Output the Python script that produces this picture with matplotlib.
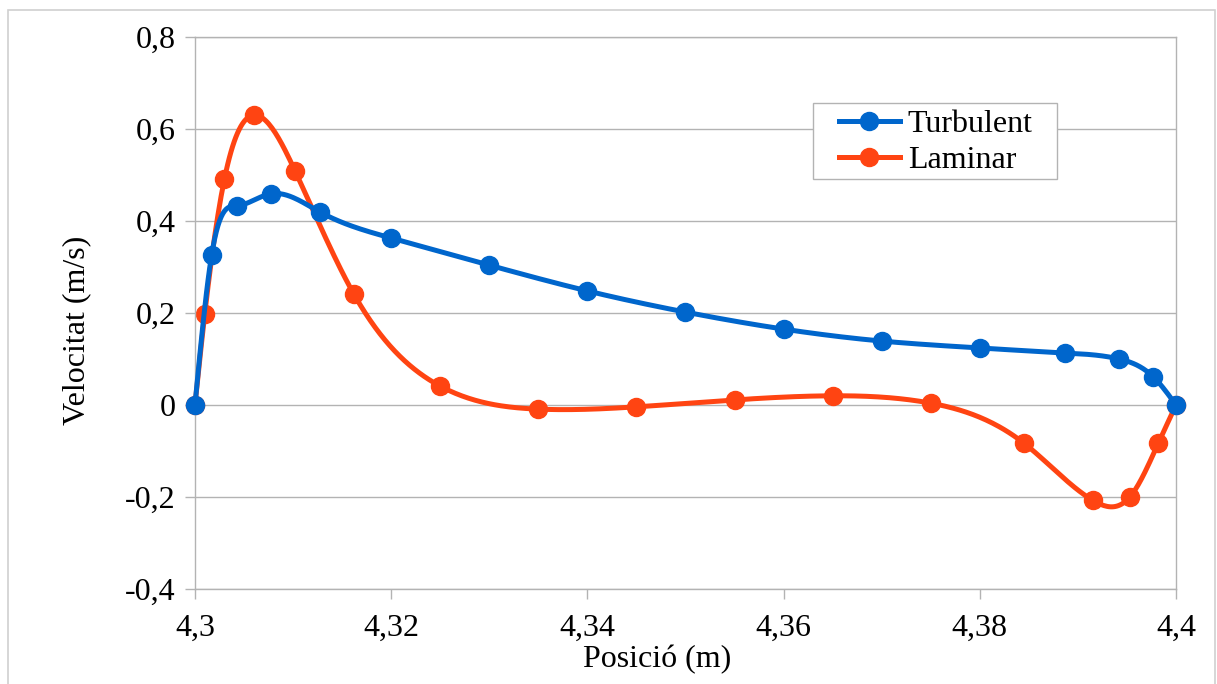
import numpy as np
import matplotlib
matplotlib.use("Agg")
import matplotlib.pyplot as plt
from matplotlib.patches import Rectangle

# data
turb_x = [4.3, 4.3017, 4.3043, 4.3077, 4.3127, 4.32, 4.33, 4.34, 4.35, 4.36,
          4.37, 4.38, 4.3887, 4.3942, 4.3977, 4.4]
turb_y = [0.0, 0.326, 0.433, 0.459, 0.420, 0.363, 0.304, 0.248, 0.202, 0.165,
          0.139, 0.124, 0.113, 0.100, 0.061, 0.0]

lam_x = [4.3, 4.301, 4.303, 4.306, 4.3102, 4.3162, 4.325, 4.335, 4.345, 4.355,
         4.365, 4.375, 4.3845, 4.3915, 4.3953, 4.3982, 4.4]
lam_y = [0.0, 0.198, 0.491, 0.630, 0.509, 0.241, 0.041, -0.009, -0.004, 0.011,
         0.020, 0.004, -0.083, -0.207, -0.200, -0.083, 0.0]

x_ticks = [4.30, 4.32, 4.34, 4.36, 4.38, 4.40]
x_labels = ["4,3", "4,32", "4,34", "4,36", "4,38", "4,4"]
y_ticks = [-0.4, -0.2, 0.0, 0.2, 0.4, 0.6, 0.8]
y_labels = ["-0,4", "-0,2", "0", "0,2", "0,4", "0,6", "0,8"]

BLUE = "#0066cc"
ORANGE = "#ff4412"
GRID = "#b3b3b3"


def natural_spline(x, y, n=600):
    """Natural cubic spline through the points, used only to smooth the line."""
    x = np.asarray(x, dtype=float)
    y = np.asarray(y, dtype=float)
    k = len(x)
    h = np.diff(x)
    A = np.zeros((k, k))
    b = np.zeros(k)
    A[0, 0] = 1.0
    A[-1, -1] = 1.0
    for i in range(1, k - 1):
        A[i, i - 1] = h[i - 1]
        A[i, i] = 2 * (h[i - 1] + h[i])
        A[i, i + 1] = h[i]
        b[i] = 6 * ((y[i + 1] - y[i]) / h[i] - (y[i] - y[i - 1]) / h[i - 1])
    m = np.linalg.solve(A, b)
    xs = np.linspace(x[0], x[-1], n)
    idx = np.clip(np.searchsorted(x, xs) - 1, 0, k - 2)
    x0, x1 = x[idx], x[idx + 1]
    hh = x1 - x0
    t0, t1 = x1 - xs, xs - x0
    ys = (m[idx] * t0 ** 3 + m[idx + 1] * t1 ** 3) / (6 * hh) \
        + (y[idx] / hh - m[idx] * hh / 6) * t0 \
        + (y[idx + 1] / hh - m[idx + 1] * hh / 6) * t1
    return xs, ys


plt.rcParams['font.family'] = ['Liberation Serif', 'DejaVu Serif']
plt.rcParams['font.size'] = 23

fig = plt.figure(figsize=(12.17, 6.84), dpi=100)
ax = fig.add_axes([0.1602, 0.1389, 0.9663 - 0.1602, 0.9459 - 0.1389])

# light border around the whole chart
fig.patches.append(Rectangle((8 / 1217, -0.02), 1207 / 1217, 1.02 - 10 / 684,
                             transform=fig.transFigure, fill=False,
                             edgecolor="#d0d0d0", linewidth=1.2))

# laminar first so the turbulent series sits on top
for xs, ys, col, z in [(lam_x, lam_y, ORANGE, 2), (turb_x, turb_y, BLUE, 3)]:
    sx, sy = natural_spline(xs, ys)
    ax.plot(sx, sy, color=col, linewidth=3.6, solid_capstyle='round',
            zorder=z, clip_on=False)
    ax.plot(xs, ys, linestyle='none', marker='o', markersize=13,
            color=col, zorder=z, clip_on=False)

# legend: frame drawn as a plain box, entries placed inside it
ax.add_patch(Rectangle((0.630, 0.743), 0.879 - 0.630, 0.880 - 0.743,
                       transform=ax.transAxes, facecolor='white',
                       edgecolor=GRID, linewidth=1.0, zorder=5))
h1, = ax.plot([], [], color=BLUE, linewidth=3.6, marker='o', markersize=13)
h2, = ax.plot([], [], color=ORANGE, linewidth=3.6, marker='o', markersize=13)
leg = ax.legend([h1, h2], ["Turbulent", "Laminar"], loc='center left',
                bbox_to_anchor=(0.6565, 0.8089), frameon=False, borderpad=0,
                handlelength=1.9, handletextpad=0.25, labelspacing=0.2,
                borderaxespad=0)
leg.set_zorder(6)

ax.set_xlim(4.3, 4.4)
ax.set_ylim(-0.4, 0.8)
ax.set_xticks(x_ticks)
ax.set_xticklabels(x_labels)
ax.set_yticks(y_ticks)
ax.set_yticklabels(y_labels)
ax.tick_params(axis='both', length=7, width=1, color=GRID, pad=7)
ax.tick_params(axis='x', pad=11)
ax.grid(axis='y', color=GRID, linewidth=1)
ax.set_axisbelow(True)
for s in ax.spines.values():
    s.set_color(GRID)
    s.set_linewidth(1)

ax.set_xlabel("Posició (m)", va='top')
ax.xaxis.set_label_coords(0.471, -0.101)
ax.set_ylabel("Velocitat (m/s)", va='bottom')
ax.yaxis.set_label_coords(-0.106, 0.469)

fig.savefig("out.png", dpi=100)
